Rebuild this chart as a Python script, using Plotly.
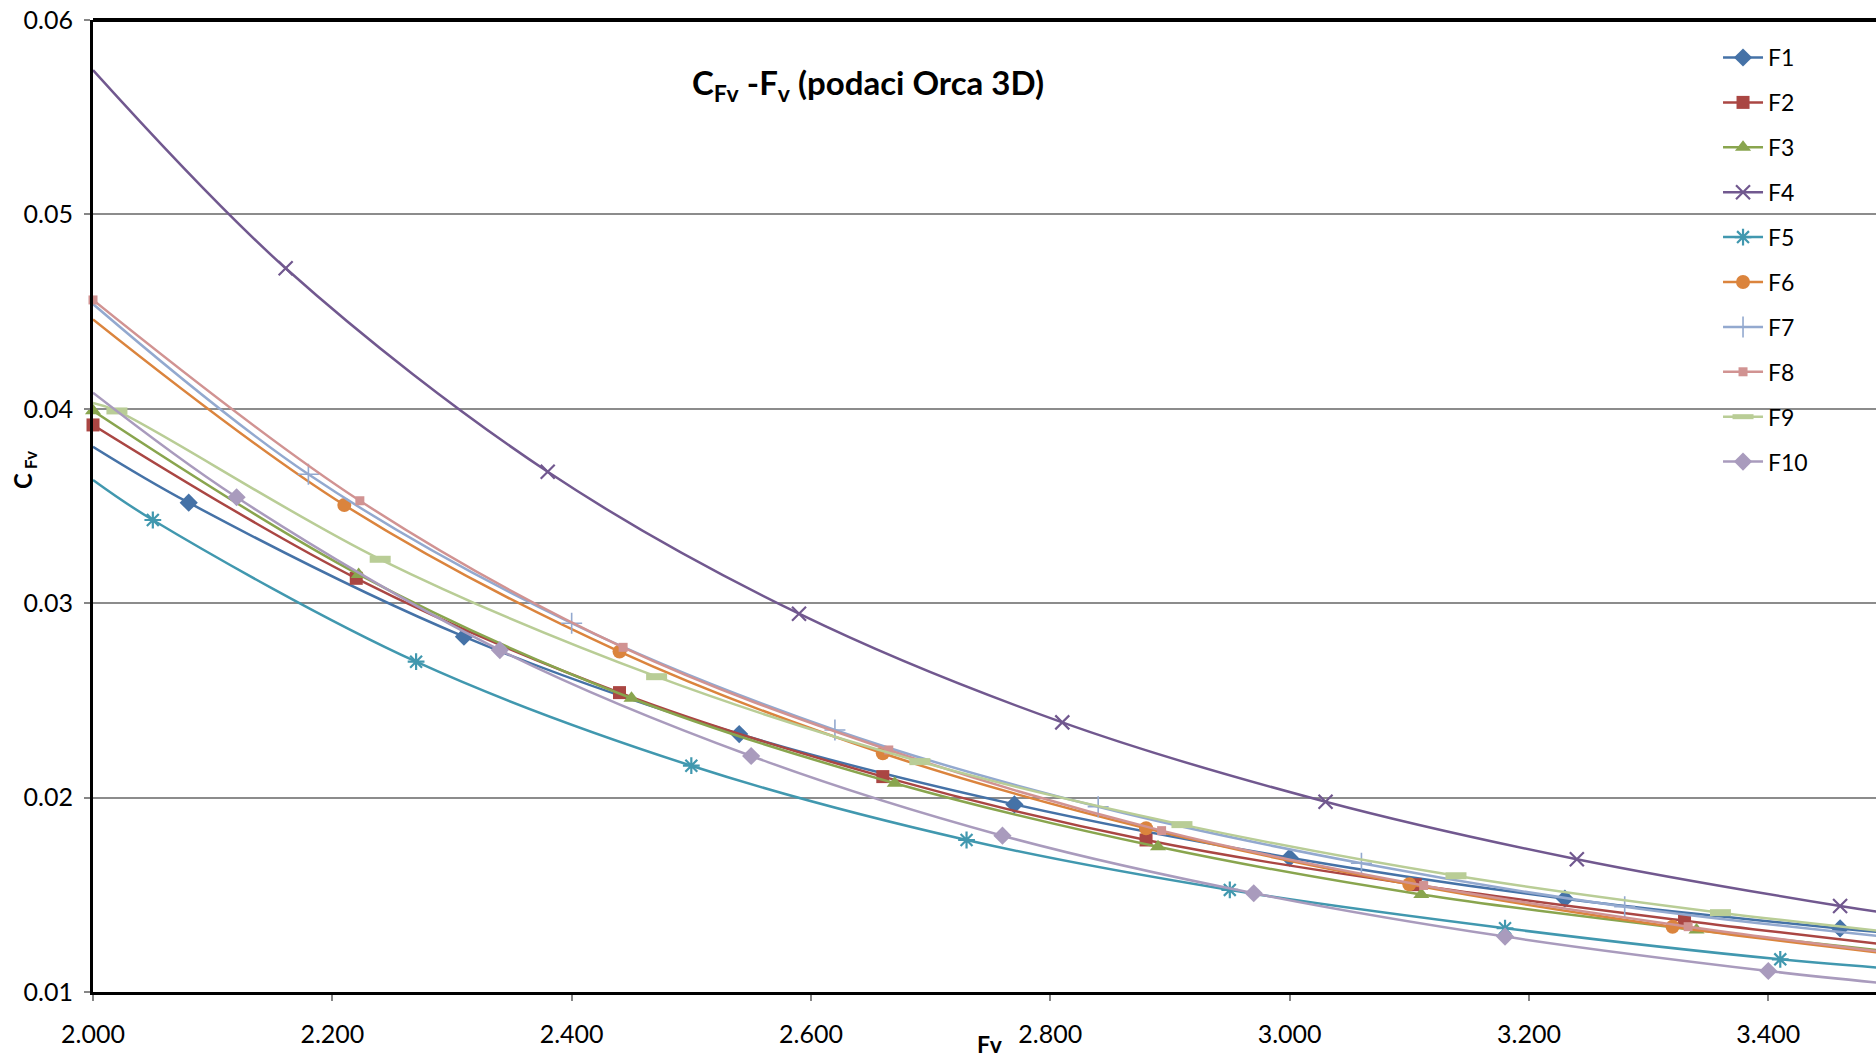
import plotly.graph_objects as go

# ---------------- data ----------------
series_names = ["F1", "F2", "F3", "F4", "F5", "F6", "F7", "F8", "F9", "F10"]

F1_x = [2.000, 2.080, 2.310, 2.540, 2.770, 3.000, 3.230, 3.460, 3.500]
F1_y = [0.03805, 0.03517, 0.02828, 0.02327, 0.01965, 0.01691, 0.01480, 0.01327, 0.01305]
F1_marked = [0, 1, 1, 1, 1, 1, 1, 1, 0]

F2_x = [2.000, 2.220, 2.440, 2.660, 2.880, 3.105, 3.330, 3.500]
F2_y = [0.03917, 0.03128, 0.02540, 0.02108, 0.01782, 0.01552, 0.01367, 0.01242]
F2_marked = [1, 1, 1, 1, 1, 1, 1, 0]

F3_x = [2.000, 2.222, 2.450, 2.670, 2.890, 3.110, 3.340, 3.500]
F3_y = [0.03990, 0.03148, 0.02511, 0.02074, 0.01747, 0.01502, 0.01319, 0.01210]
F3_marked = [1, 1, 1, 1, 1, 1, 1, 0]

F4_x = [2.000, 2.161, 2.380, 2.590, 2.810, 3.030, 3.240, 3.460, 3.500]
F4_y = [0.05742, 0.04723, 0.03676, 0.02946, 0.02387, 0.01979, 0.01683, 0.01442, 0.01405]
F4_marked = [0, 1, 1, 1, 1, 1, 1, 1, 0]

F5_x = [2.000, 2.050, 2.270, 2.500, 2.730, 2.950, 3.180, 3.410, 3.500]
F5_y = [0.03634, 0.03428, 0.02699, 0.02164, 0.01782, 0.01525, 0.01328, 0.01168, 0.01122]
F5_marked = [0, 1, 1, 1, 1, 1, 1, 1, 0]

F6_x = [2.000, 2.210, 2.440, 2.660, 2.880, 3.100, 3.320, 3.500]
F6_y = [0.04460, 0.03505, 0.02751, 0.02228, 0.01842, 0.01554, 0.01336, 0.01198]
F6_marked = [0, 1, 1, 1, 1, 1, 1, 0]

F7_x = [2.000, 2.180, 2.400, 2.620, 2.840, 3.060, 3.280, 3.500]
F7_y = [0.04539, 0.03663, 0.02897, 0.02348, 0.01953, 0.01662, 0.01439, 0.01283]
F7_marked = [0, 1, 1, 1, 1, 1, 1, 0]

F8_x = [2.000, 2.223, 2.443, 2.665, 2.893, 3.112, 3.333, 3.500]
F8_y = [0.04560, 0.03527, 0.02773, 0.02245, 0.01830, 0.01548, 0.01336, 0.01203]
F8_marked = [1, 1, 1, 1, 1, 1, 1, 0]

F9_x = [2.000, 2.020, 2.240, 2.471, 2.691, 2.910, 3.139, 3.360, 3.500]
F9_y = [0.04030, 0.03989, 0.03226, 0.02622, 0.02185, 0.01861, 0.01598, 0.01408, 0.01310]
F9_marked = [0, 1, 1, 1, 1, 1, 1, 1, 0]

F10_x = [2.000, 2.120, 2.340, 2.550, 2.760, 2.970, 3.180, 3.400, 3.500]
F10_y = [0.04083, 0.03545, 0.02759, 0.02214, 0.01804, 0.01508, 0.01285, 0.01108, 0.01043]
F10_marked = [0, 1, 1, 1, 1, 1, 1, 1, 0]

x_ticks = [2.0, 2.2, 2.4, 2.6, 2.8, 3.0, 3.2, 3.4]
y_ticks = [0.01, 0.02, 0.03, 0.04, 0.05, 0.06]

# ---------------- styles ----------------
colors = ["#4572A7", "#AA4643", "#89A54E", "#71588F", "#4198AF",
          "#DB843D", "#93A9CF", "#D19392", "#B9CD96", "#A99BBD"]
markers = [
    dict(symbol="diamond", size=14),
    dict(symbol="square", size=13),
    dict(symbol="triangle-up", size=14),
    dict(symbol="x-thin-open", size=14, line=dict(width=2.2)),
    dict(symbol="asterisk-open", size=14, line=dict(width=2.2)),
    dict(symbol="circle", size=14),
    dict(symbol="cross-thin-open", size=15, line=dict(width=1.6)),
    dict(symbol="square", size=9),
    dict(symbol="line-ew-open", size=15, line=dict(width=7)),
    dict(symbol="diamond", size=14),
]

all_x = [F1_x, F2_x, F3_x, F4_x, F5_x, F6_x, F7_x, F8_x, F9_x, F10_x]
all_y = [F1_y, F2_y, F3_y, F4_y, F5_y, F6_y, F7_y, F8_y, F9_y, F10_y]
all_m = [F1_marked, F2_marked, F3_marked, F4_marked, F5_marked,
         F6_marked, F7_marked, F8_marked, F9_marked, F10_marked]

FONT = "Lato"
fig = go.Figure()

for name, xs, ys, ms, col, mk in zip(series_names, all_x, all_y, all_m, colors, markers):
    mk = dict(mk)
    mk["color"] = col
    if "line" in mk:
        mk["line"] = dict(mk["line"], color=col)
    # smooth line
    fig.add_trace(go.Scatter(x=xs, y=ys, mode="lines", showlegend=False,
                             line=dict(color=col, width=2.5, shape="spline", smoothing=1.0),
                             hoverinfo="skip"))
    # markers
    mx = [x for x, f in zip(xs, ms) if f]
    my = [y for y, f in zip(ys, ms) if f]
    fig.add_trace(go.Scatter(x=mx, y=my, mode="markers", showlegend=False,
                             marker=mk, cliponaxis=False, name=name))
    # legend entry
    fig.add_trace(go.Scatter(x=[None], y=[None], mode="lines+markers", name=name,
                             legendgroup=name, line=dict(color=col, width=2.5),
                             marker=mk))

fig.update_layout(
    width=1876, height=1059,
    margin=dict(l=93, r=0, t=20, b=67),
    paper_bgcolor="white", plot_bgcolor="white",
    font=dict(family=FONT, size=24, color="black"),
    showlegend=True,
    legend=dict(x=0.9114, y=0.9835, xanchor="left", yanchor="top",
                bgcolor="rgba(0,0,0,0)", font=dict(family=FONT, size=23),
                tracegroupgap=12, itemwidth=40),
    xaxis=dict(range=[2.0, 3.49], tickvals=x_ticks, tickformat=".3f",
               showgrid=False, zeroline=False,
               showline=True, linecolor="black", linewidth=3,
               ticks="outside", ticklen=6, tickcolor="#868686", tickwidth=1.5,
               ticklabelstandoff=12,
               tickfont=dict(family=FONT, size=25)),
    yaxis=dict(range=[0.01, 0.06], tickvals=y_ticks, tickformat=".2f",
               showgrid=True, gridcolor="#8c8c8c", gridwidth=1.5, zeroline=False,
               showline=True, linecolor="black", linewidth=3,
               ticks="outside", ticklen=6, tickcolor="#868686", tickwidth=1.5,
               ticklabelstandoff=6,
               tickfont=dict(family=FONT, size=25)),
)

# top border of plot area
fig.add_shape(type="line", xref="paper", yref="paper", x0=0, x1=1, y0=1, y1=1,
              line=dict(color="black", width=4))

# title
fig.add_annotation(text="<b>C<sub>Fv</sub> -F<sub>v</sub> (podaci Orca 3D)</b>",
                   xref="paper", yref="paper", x=0.4347, y=0.934,
                   xanchor="center", yanchor="middle",
                   showarrow=False, font=dict(family=FONT, size=33, color="black"))
# axis titles
fig.add_annotation(text="<b>Fv</b>", xref="paper", yref="paper", x=0.503, y=-0.0535,
                   xanchor="center", yanchor="middle",
                   showarrow=False, font=dict(family=FONT, size=23, color="black"))
fig.add_annotation(text="<b>C<sub> Fv</sub></b>", xref="paper", yref="paper",
                   x=-0.0387, y=0.537, textangle=-90,
                   xanchor="center", yanchor="middle",
                   showarrow=False, font=dict(family=FONT, size=24, color="black"))

fig.write_html("out.html", config={"displayModeBar": False},
               post_script="document.body.style.margin='0';")
